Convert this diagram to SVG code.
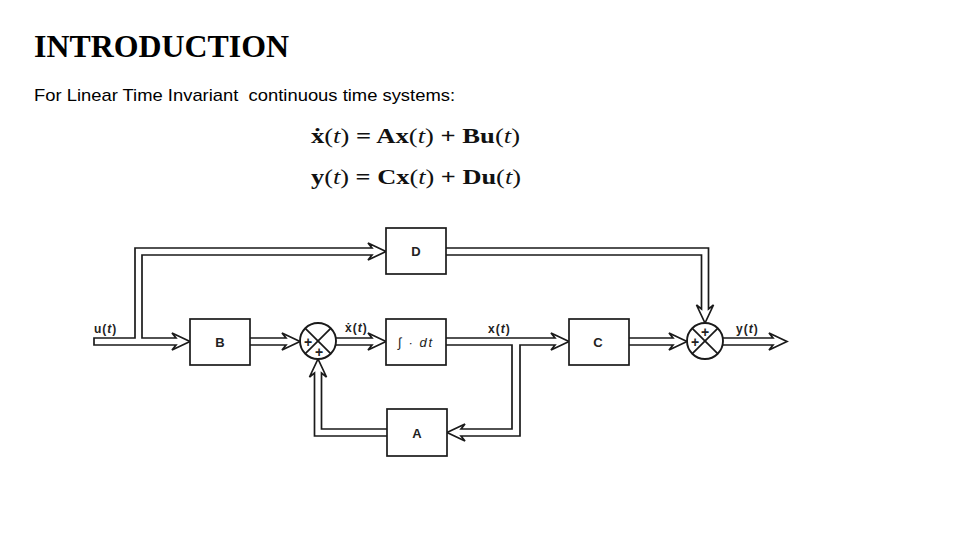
<svg xmlns="http://www.w3.org/2000/svg" width="960" height="540" viewBox="0 0 960 540">
<style>
.pipe{fill:#fff;stroke:#1a1a1a;stroke-width:1.7;stroke-linejoin:miter}
.box{fill:#fff;stroke:#1a1a1a;stroke-width:1.7}
.sum{fill:#fff;stroke:#1a1a1a;stroke-width:1.9}
.x{stroke:#1a1a1a;stroke-width:1.7}
.lbl{font-family:"Liberation Sans",Arial,sans-serif;font-size:12px;font-weight:bold;fill:#222;letter-spacing:1px}
.blk{font-family:"Liberation Sans",Arial,sans-serif;font-size:13px;font-weight:bold;fill:#222;text-anchor:middle}
.pl{font-family:"Liberation Sans",Arial,sans-serif;font-size:14px;font-weight:bold;fill:#222;text-anchor:middle}
.eq{font-family:"Liberation Serif","Times New Roman",serif;font-size:22px;font-weight:bold;fill:#111}
.it{font-style:italic;font-weight:normal}
.nw{font-weight:normal}
</style>
<rect width="960" height="540" fill="#fff"/>
<text x="34" y="57" font-family="Liberation Serif,'Times New Roman',serif" font-size="31" font-weight="bold" textLength="255" lengthAdjust="spacingAndGlyphs" fill="#000">INTRODUCTION</text>
<text x="34" y="101" xml:space="preserve" font-family="Liberation Sans,Arial,sans-serif" font-size="17" textLength="421" lengthAdjust="spacingAndGlyphs" fill="#000">For Linear Time Invariant  continuous time systems:</text>
<text class="eq" x="311" y="143" textLength="209" lengthAdjust="spacingAndGlyphs">ẋ<tspan class="nw">(</tspan><tspan class="it">t</tspan><tspan class="nw">)</tspan> = Ax<tspan class="nw">(</tspan><tspan class="it">t</tspan><tspan class="nw">)</tspan> + Bu<tspan class="nw">(</tspan><tspan class="it">t</tspan><tspan class="nw">)</tspan></text>
<text class="eq" x="311" y="184" textLength="210" lengthAdjust="spacingAndGlyphs">y<tspan class="nw">(</tspan><tspan class="it">t</tspan><tspan class="nw">)</tspan> = Cx<tspan class="nw">(</tspan><tspan class="it">t</tspan><tspan class="nw">)</tspan> + Du<tspan class="nw">(</tspan><tspan class="it">t</tspan><tspan class="nw">)</tspan></text>

<g id="connectors">
<path class="pipe" d="M94,338 H135 V248 H372 L368,243 L386,251.5 L368,260 L372,255 H142 V338 H176 L172,333 L190,341.5 L172,350 L176,345 H94 Z"/>
<path class="pipe" d="M250,338 H286 L282,333 L300,341.5 L282,350 L286,345 H250"/>
<path class="pipe" d="M336,338 H372 L368,333 L386,341.5 L368,350 L372,345 H336"/>
<path class="pipe" d="M446,338 H555 L551,333 L569,341.5 L551,350 L555,345 H520 V436 H461 L465,441 L447,432.5 L465,424 L461,429 H512 V345 H446"/>
<path class="pipe" d="M387,429 H321.5 V373 L326.5,377 L318,359 L309.5,377 L314.5,373 V436 H387"/>
<path class="pipe" d="M628,338 H673 L669,333 L687,341.5 L669,350 L673,345 H628"/>
<path class="pipe" d="M446,248 H708.5 V309 L713.5,305 L705,323 L696.5,305 L701.5,309 V255 H446"/>
<path class="pipe" d="M723,338 H773 L769,333 L787,341.5 L769,350 L773,345 H723"/>
</g>

<g id="label-u"><text class="lbl" x="94" y="333">u(<tspan font-style="italic">t</tspan>)</text></g>
<g id="label-xdot"><text class="lbl" x="345" y="332">ẋ(<tspan font-style="italic">t</tspan>)</text></g>
<g id="label-x"><text class="lbl" x="488" y="333">x(<tspan font-style="italic">t</tspan>)</text></g>
<g id="label-y"><text class="lbl" x="736" y="333">y(<tspan font-style="italic">t</tspan>)</text></g>

<g id="B"><rect class="box" x="190" y="319" width="60" height="46"/><text class="blk" x="220" y="347">B</text></g>
<g id="D"><rect class="box" x="386" y="228" width="60" height="46"/><text class="blk" x="416" y="256">D</text></g>
<g id="integrator"><rect class="box" x="386" y="319" width="60" height="46"/><text x="398" y="347" xml:space="preserve" textLength="34" lengthAdjust="spacing" font-family="Liberation Sans,Arial,sans-serif" font-size="13" font-style="italic" fill="#222">∫ · dt</text></g>
<g id="C"><rect class="box" x="569" y="319" width="60" height="46"/><text class="blk" x="598" y="347">C</text></g>
<g id="A"><rect class="box" x="387" y="409" width="60" height="47"/><text class="blk" x="417" y="438">A</text></g>

<g id="sum1">
<circle class="sum" cx="318" cy="341" r="18"/>
<line class="x" x1="305.3" y1="328.3" x2="330.7" y2="353.7"/>
<line class="x" x1="330.7" y1="328.3" x2="305.3" y2="353.7"/>
<text class="pl" x="308" y="347">+</text>
<text class="pl" x="319" y="357">+</text>
</g>
<g id="sum2">
<circle class="sum" cx="705" cy="341" r="18"/>
<line class="x" x1="692.3" y1="328.3" x2="717.7" y2="353.7"/>
<line class="x" x1="717.7" y1="328.3" x2="692.3" y2="353.7"/>
<text class="pl" x="695" y="347">+</text>
<text class="pl" x="705" y="337">+</text>
</g>
</svg>
